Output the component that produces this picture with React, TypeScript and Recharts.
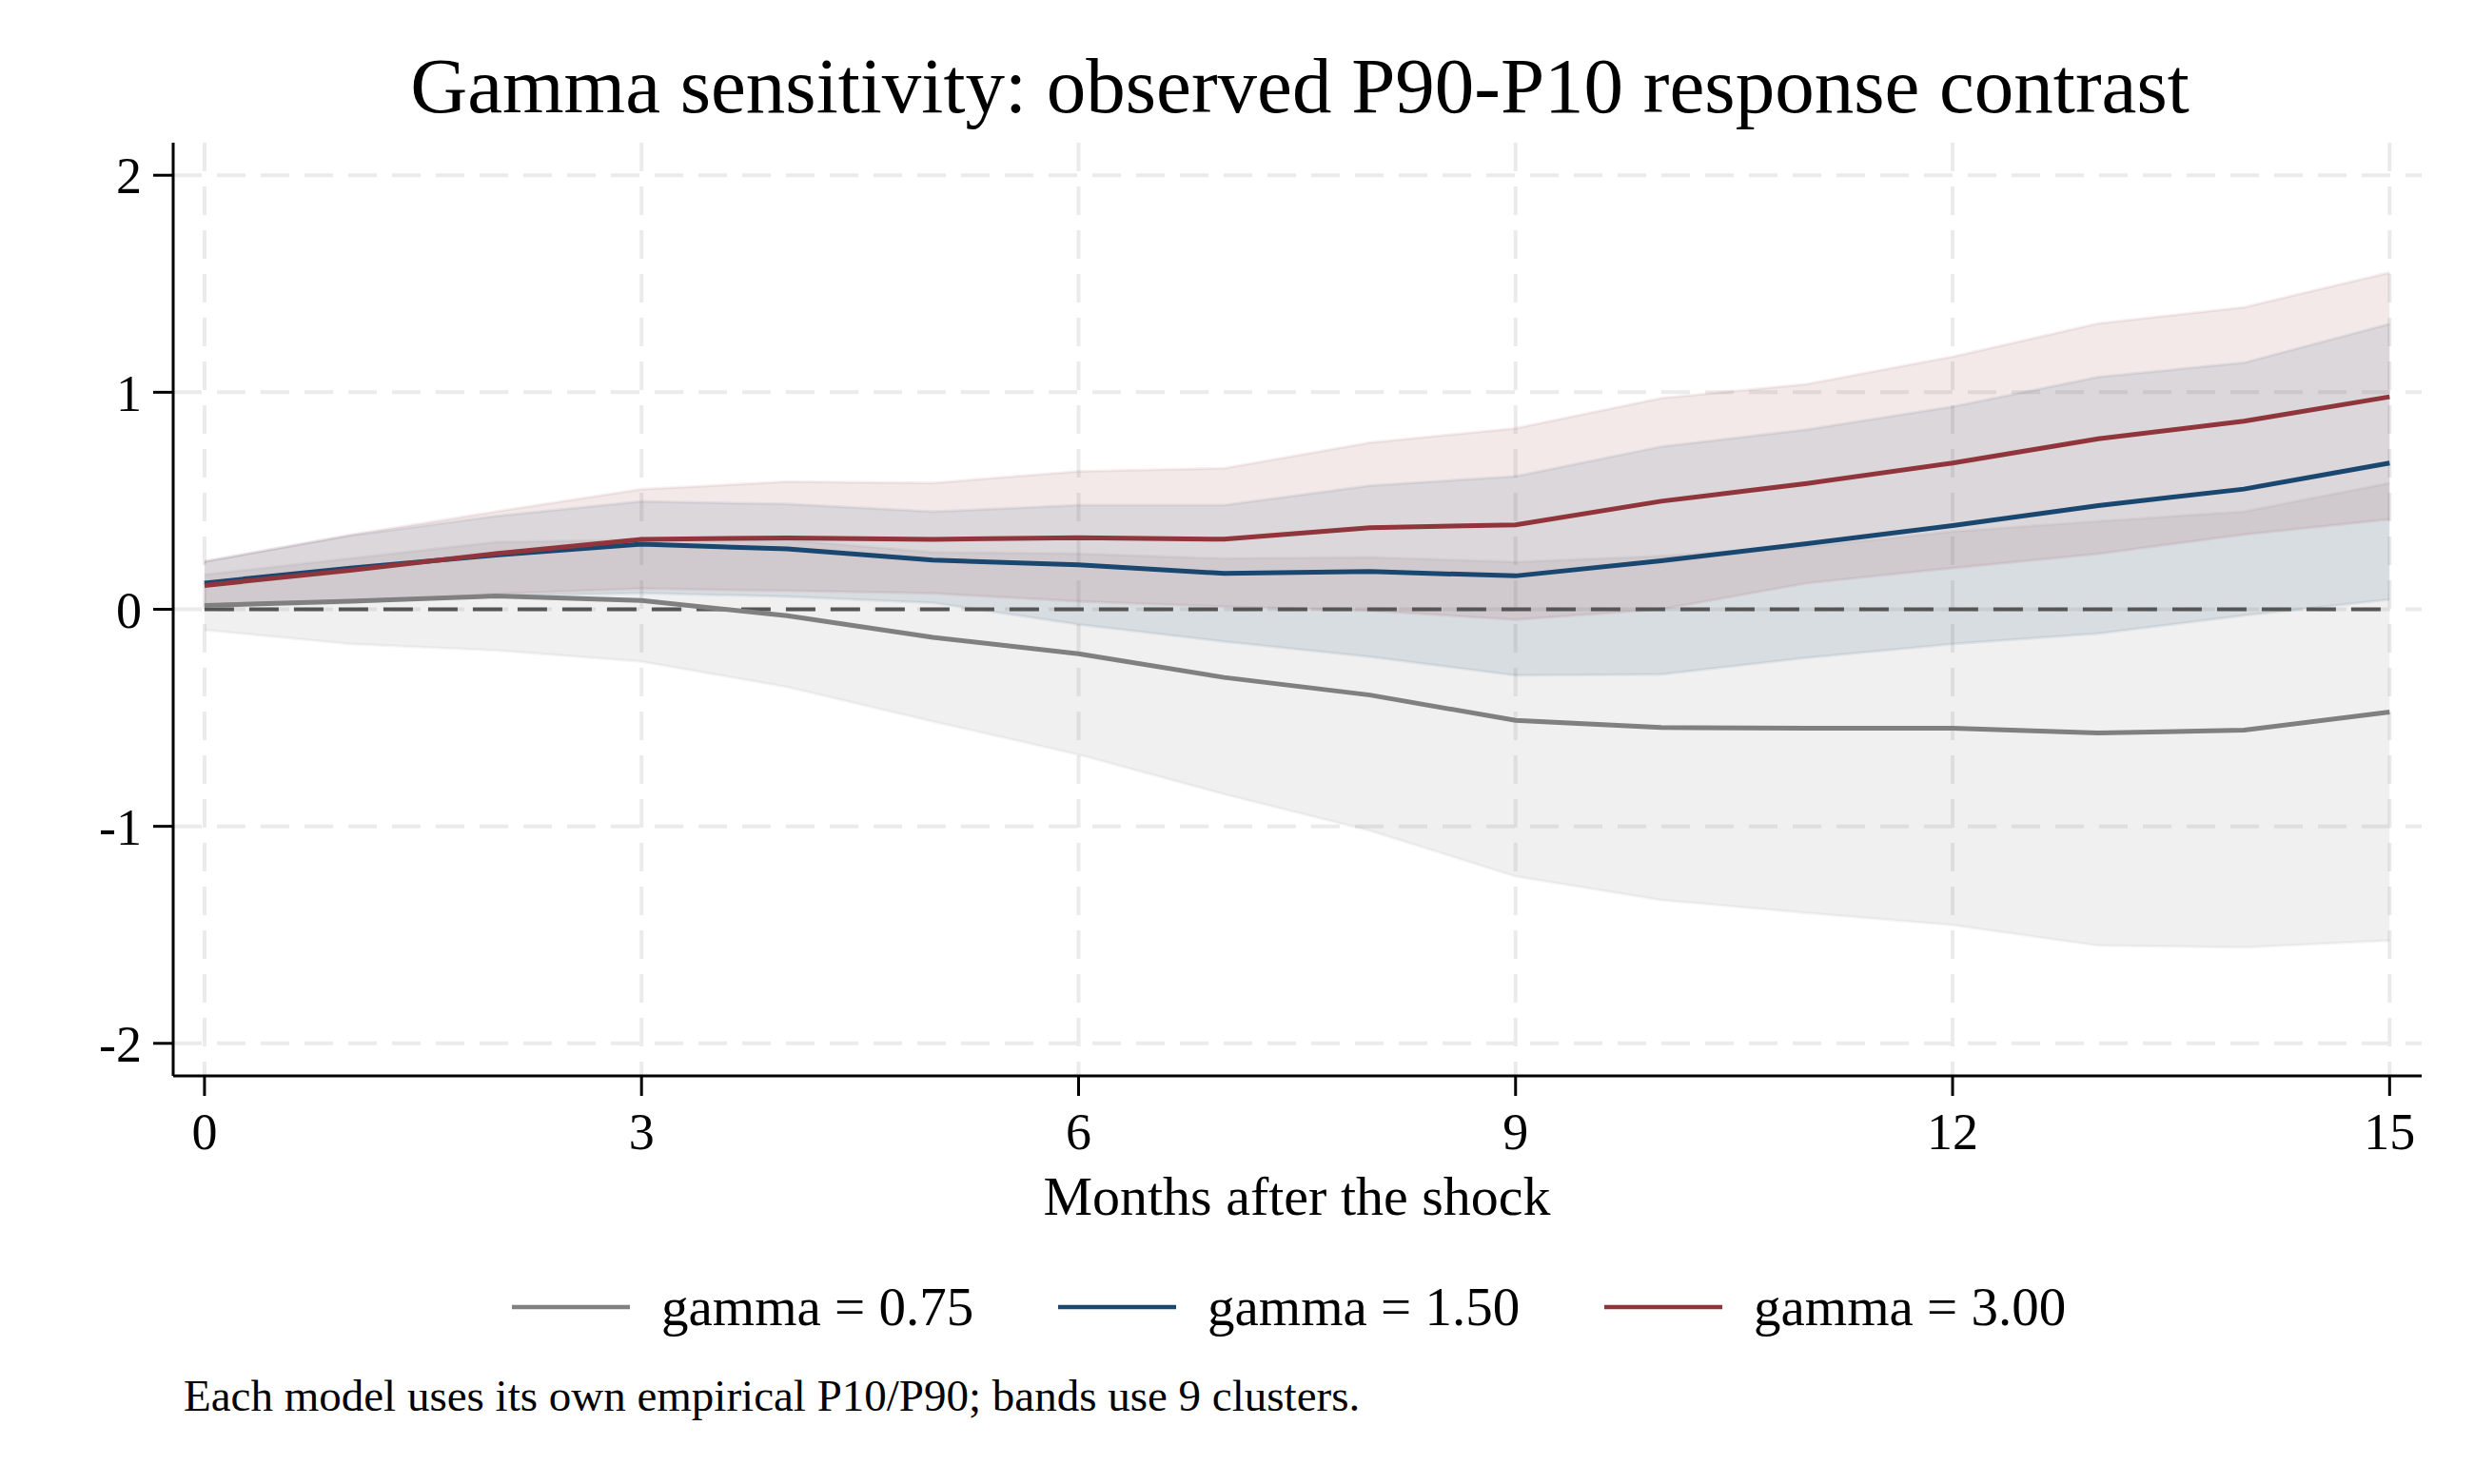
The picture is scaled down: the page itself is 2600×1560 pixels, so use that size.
import { ComposedChart, Area, Line, XAxis, YAxis, CartesianGrid, ReferenceLine } from 'recharts'

const months = [0, 1, 2, 3, 4, 5, 6, 7, 8, 9, 10, 11, 12, 13, 14, 15]

// point estimates
const g075 = [0.018, 0.037, 0.061, 0.041, -0.03, -0.129, -0.205, -0.314, -0.395, -0.512, -0.545, -0.548, -0.548, -0.57, -0.557, -0.473]
const g150 = [0.121, 0.19, 0.25, 0.3, 0.278, 0.227, 0.205, 0.165, 0.174, 0.154, 0.224, 0.302, 0.386, 0.478, 0.554, 0.674]
const g300 = [0.11, 0.18, 0.256, 0.322, 0.329, 0.322, 0.33, 0.323, 0.376, 0.389, 0.498, 0.58, 0.674, 0.786, 0.867, 0.979]

// bands
const g075Lo = [-0.095, -0.16, -0.19, -0.241, -0.358, -0.517, -0.67, -0.852, -1.02, -1.231, -1.34, -1.399, -1.455, -1.55, -1.558, -1.527]
const g075Hi = [0.16, 0.234, 0.31, 0.32, 0.32, 0.263, 0.256, 0.234, 0.24, 0.218, 0.246, 0.288, 0.358, 0.406, 0.45, 0.582]
const g150Lo = [0.02, 0.04, 0.06, 0.075, 0.058, 0.03, -0.07, -0.149, -0.219, -0.305, -0.3, -0.224, -0.16, -0.112, -0.028, 0.045]
const g150Hi = [0.22, 0.34, 0.43, 0.497, 0.485, 0.45, 0.48, 0.48, 0.57, 0.613, 0.75, 0.828, 0.934, 1.071, 1.136, 1.315]
const g300Lo = [0.01, 0.03, 0.07, 0.095, 0.085, 0.073, 0.036, 0.012, -0.007, -0.048, 0.0, 0.12, 0.19, 0.255, 0.344, 0.414]
const g300Hi = [0.22, 0.343, 0.45, 0.553, 0.588, 0.582, 0.636, 0.65, 0.768, 0.834, 0.973, 1.038, 1.164, 1.317, 1.392, 1.552]

const xTicks = [0, 3, 6, 9, 12, 15]
const yTicks = [-2, -1, 0, 1, 2]
const xDomain = [-0.215, 15.22]
const yDomain = [-2.15, 2.15]

const seriesNames = ['gamma = 0.75', 'gamma = 1.50', 'gamma = 3.00']
const seriesColors = ['#808080', '#1a476f', '#90353b']

const data = months.map((m, i) => ({
  month: m,
  a: g075[i], b: g150[i], c: g300[i],
  aBand: [g075Lo[i], g075Hi[i]],
  bBand: [g150Lo[i], g150Hi[i]],
  cBand: [g300Lo[i], g300Hi[i]],
}))

const FONT = '"Liberation Serif", serif'
const tickStyle = { fontSize: 54, fontFamily: FONT, fill: '#000' }

// grid only at the tick values, not at the plot edges
const hGrid = ({ offset }: any) =>
  yTicks.map((t) => offset.top + ((yDomain[1] - t) / (yDomain[1] - yDomain[0])) * offset.height)
const vGrid = ({ offset }: any) =>
  xTicks.map((t) => offset.left + ((t - xDomain[0]) / (xDomain[1] - xDomain[0])) * offset.width)

export default function App() {
  return (
    <div style={{ position: 'absolute', left: 0, top: 0, width: 2600, height: 1560, background: '#fff' }}>
      <ComposedChart width={2600} height={1560} data={data} margin={{ top: 150, right: 55, bottom: 369, left: 0 }}>
        <CartesianGrid
          stroke="#ebebeb" strokeWidth={4} strokeDasharray="30 16"
          horizontalCoordinatesGenerator={hGrid}
          verticalCoordinatesGenerator={vGrid}
        />
        <XAxis
          type="number" dataKey="month" domain={xDomain} ticks={xTicks} allowDataOverflow
          height={60} tickSize={21} tickMargin={18} tick={tickStyle}
          axisLine={{ stroke: '#000', strokeWidth: 3 }} tickLine={{ stroke: '#000', strokeWidth: 3 }}
        />
        <YAxis
          type="number" domain={yDomain} ticks={yTicks} allowDataOverflow width={182}
          tickSize={21} tickMargin={12} tick={tickStyle}
          axisLine={{ stroke: '#000', strokeWidth: 3 }} tickLine={{ stroke: '#000', strokeWidth: 3 }}
        />
        <Area dataKey="aBand" type="linear" fill={seriesColors[0]} fillOpacity={0.12} stroke={seriesColors[0]} strokeOpacity={0.08} strokeWidth={3} isAnimationActive={false} />
        <Area dataKey="bBand" type="linear" fill={seriesColors[1]} fillOpacity={0.11} stroke={seriesColors[1]} strokeOpacity={0.08} strokeWidth={3} isAnimationActive={false} />
        <Area dataKey="cBand" type="linear" fill={seriesColors[2]} fillOpacity={0.11} stroke={seriesColors[2]} strokeOpacity={0.08} strokeWidth={3} isAnimationActive={false} />
        <ReferenceLine segment={[{ x: 0, y: 0 }, { x: 15, y: 0 }]} stroke="#555" strokeWidth={4} strokeDasharray="31 16" />
        <Line dataKey="a" type="linear" stroke={seriesColors[0]} strokeWidth={5} dot={false} isAnimationActive={false} />
        <Line dataKey="b" type="linear" stroke={seriesColors[1]} strokeWidth={5} dot={false} isAnimationActive={false} />
        <Line dataKey="c" type="linear" stroke={seriesColors[2]} strokeWidth={5} dot={false} isAnimationActive={false} />
      </ComposedChart>
      <svg width={2600} height={1560} style={{ position: 'absolute', left: 0, top: 0, pointerEvents: 'none' }}>
        <text x={1366} y={118} textAnchor="middle" fontFamily={FONT} fontSize={83}>
          Gamma sensitivity: observed P90-P10 response contrast
        </text>
        <text x={1363} y={1277} textAnchor="middle" fontFamily={FONT} fontSize={58}>
          Months after the shock
        </text>
        {seriesNames.map((name, i) => {
          const x0 = 538 + i * 574
          return (
            <g key={name}>
              <line x1={x0} x2={x0 + 124} y1={1374} y2={1374} stroke={seriesColors[i]} strokeWidth={4.5} />
              <text x={x0 + 157} y={1393} fontFamily={FONT} fontSize={57}>{name}</text>
            </g>
          )
        })}
        <text x={193} y={1483} fontFamily={FONT} fontSize={47}>
          Each model uses its own empirical P10/P90; bands use 9 clusters.
        </text>
      </svg>
    </div>
  )
}
